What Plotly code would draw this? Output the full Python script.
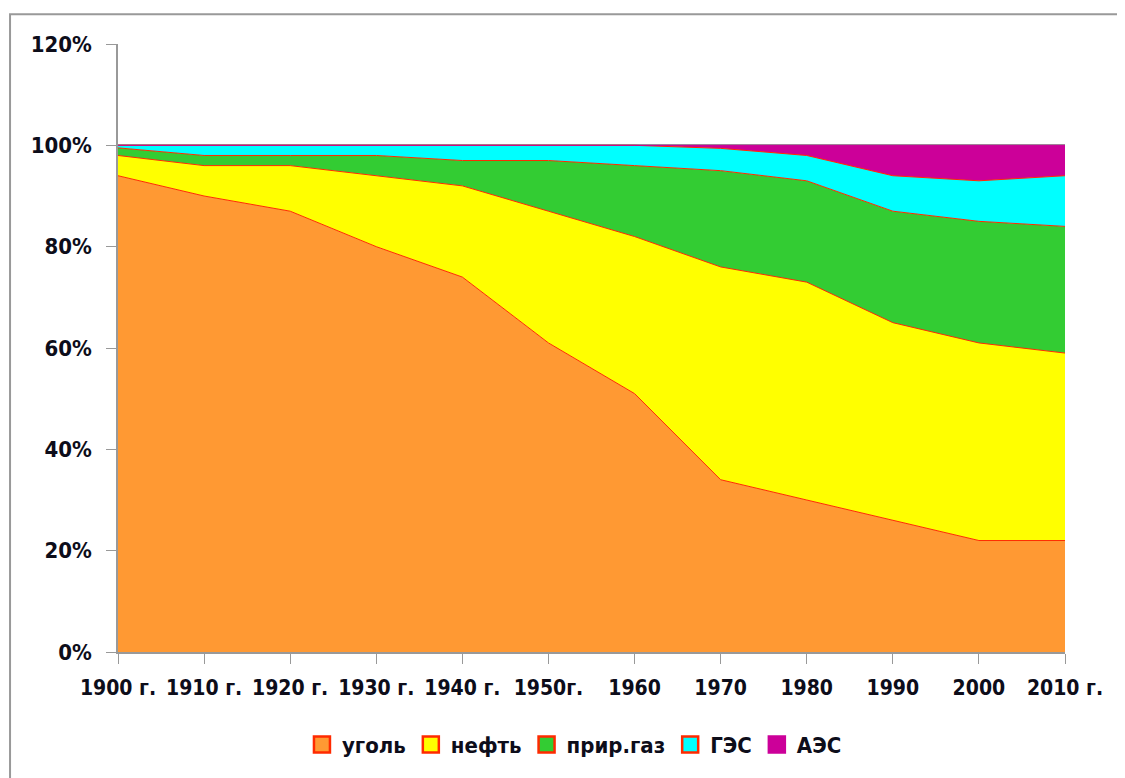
import plotly.graph_objects as go

years = ["1900 г.", "1910 г.", "1920 г.", "1930 г.", "1940 г.", "1950г.",
         "1960", "1970", "1980", "1990", "2000", "2010 г."]
coal    = [94, 90, 87, 80, 74, 61, 51, 34, 30, 26, 22, 22]
oil     = [4, 6, 9, 14, 18, 26, 31, 42, 43, 39, 39, 37]
gas     = [1.5, 2, 2, 4, 5, 10, 14, 19, 20, 22, 24, 25]
hydro   = [0.5, 2, 2, 2, 3, 3, 4, 4.4, 5, 7, 8, 10]
nuclear = [0, 0, 0, 0, 0, 0, 0, 0.6, 2, 6, 7, 6]

names = ["уголь", "нефть", "прир.газ", "ГЭС", "АЭС"]
series = [coal, oil, gas, hydro, nuclear]
fills = ["#FF9933", "#FFFF00", "#33CC33", "#00FFFF", "#CC0099"]
lines = ["#FF2A00", "#FF2A00", "#FF2A00", "#FF2A00", "#CC0099"]

FONT = "DejaVu Sans Condensed"
TXT = "#0d0d1a"
xs = list(range(len(years)))

fig = go.Figure()
for n, s, fc, lc in zip(names, series, fills, lines):
    fig.add_trace(go.Scatter(
        x=xs, y=s, name=n, mode="lines", stackgroup="one",
        line=dict(color=lc, width=1), fillcolor=fc, showlegend=False,
    ))
for n, fc, lc in zip(names, fills, lines):
    fig.add_trace(go.Scatter(
        x=[None], y=[None], name=n, mode="markers",
        marker=dict(symbol="square", size=16, color=fc, line=dict(color=lc, width=2.5)),
    ))

fig.update_layout(
    width=1125, height=778,
    paper_bgcolor="white", plot_bgcolor="white",
    margin=dict(l=110, r=68, t=36, b=134),
    font=dict(family=FONT, size=21, color=TXT, weight="bold"),
    showlegend=True,
    legend=dict(orientation="h", x=0.482, xanchor="center", y=-0.118, yanchor="top",
                font=dict(family=FONT, size=22, color=TXT, weight="bold"),
                traceorder="normal", itemwidth=30, tracegroupgap=0),
    xaxis=dict(
        range=[0, 11], tickmode="array", tickvals=xs, ticktext=years,
        showgrid=False, showline=True, linecolor="#999999", linewidth=1.5,
        ticks="outside", ticklen=10, tickcolor="#999999",
        ticklabelstandoff=6,
        tickfont=dict(family=FONT, size=21, color=TXT, weight="bold"),
        zeroline=False,
    ),
    yaxis=dict(
        range=[0, 120], tickvals=[0, 20, 40, 60, 80, 100, 120],
        ticktext=["0%", "20%", "40%", "60%", "80%", "100%", "120%"],
        showgrid=True, gridcolor="#999999", gridwidth=1.5,
        showline=True, linecolor="#999999", linewidth=1.5,
        ticks="outside", ticklen=10, tickcolor="#999999",
        ticklabelstandoff=10,
        tickfont=dict(family=FONT, size=22, color=TXT, weight="bold"),
        zeroline=False,
    ),
)

fig.add_shape(type="rect", xref="paper", yref="paper",
              x0=-0.114, x1=1.1, y0=-0.3, y1=1.049,
              line=dict(color="#999999", width=2), fillcolor="rgba(0,0,0,0)",
              layer="below")

fig.write_html("out.html")
